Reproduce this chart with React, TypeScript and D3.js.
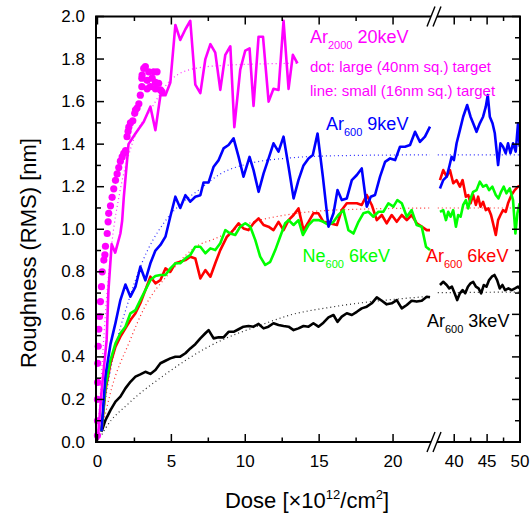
import * as d3 from "d3";
import React from "react";

type Pt = [number, number];

// Ar2000 20keV, small (16nm sq.) target - solid line
const ar2000Line: Pt[] = [
  [0.02, 0.01], [0.28, 0.24], [0.62, 0.48], [0.74, 0.71], [0.96, 0.93], [1.2, 0.89], [1.55, 0.98],
  [1.67, 1.04], [1.78, 1.15], [2.1, 1.4], [2.57, 1.45], [3.13, 1.505], [3.58, 1.576], [3.92, 1.466],
  [4.26, 1.63], [4.6, 1.63], [4.93, 1.69], [5.27, 1.96], [5.6, 1.89], [5.95, 1.94], [6.28, 1.98],
  [6.62, 1.68], [6.96, 1.64], [7.3, 1.8], [7.64, 1.87], [7.97, 1.83], [8.31, 1.655], [8.65, 1.82],
  [8.99, 1.86], [9.26, 1.48], [9.66, 1.75], [10.0, 1.84], [10.29, 1.85], [10.56, 1.58], [10.9, 1.905],
  [11.2, 1.905], [11.58, 1.6], [11.91, 1.66], [12.25, 1.655], [12.59, 1.98], [12.93, 1.66],
  [13.22, 1.82], [13.53, 1.78],
];

// Ar2000 20keV, large (40nm sq.) target - dots
const ar2000Dots: Pt[] = [
  [0.0, 0.03], [0.0, 0.1], [0.0, 0.2], [0.01, 0.28], [0.02, 0.37], [0.05, 0.45], [0.09, 0.53],
  [0.14, 0.59], [0.2, 0.66], [0.27, 0.73], [0.32, 0.8], [0.43, 0.855], [0.5, 0.88], [0.54, 0.92],
  [0.66, 0.98], [0.72, 1.035], [0.76, 1.075], [0.88, 1.11], [0.99, 1.15], [1.1, 1.19], [1.22, 1.23],
  [1.33, 1.26], [1.44, 1.29], [1.55, 1.32], [1.67, 1.34], [1.78, 1.357], [1.9, 1.37], [2.0, 1.435],
  [2.07, 1.46], [2.12, 1.48], [2.23, 1.5], [2.39, 1.51], [2.52, 1.545], [2.57, 1.56], [2.68, 1.57],
  [2.8, 1.59], [2.9, 1.63], [3.0, 1.67], [3.0, 1.71], [3.02, 1.725], [3.13, 1.756], [3.24, 1.764],
  [3.36, 1.66], [3.36, 1.7], [3.47, 1.74], [3.58, 1.67], [3.7, 1.71], [3.8, 1.74], [3.92, 1.66],
  [3.92, 1.69], [4.03, 1.74], [4.14, 1.686], [4.26, 1.655], [4.37, 1.646],
];

// Ar600 9keV
const ar600_9: Pt[] = [
  [0.27, 0.05], [0.54, 0.31], [0.88, 0.46], [1.22, 0.56], [1.55, 0.667], [1.89, 0.74], [2.23, 0.683],
  [2.57, 0.73], [2.9, 0.824], [3.24, 0.76], [3.58, 0.84], [3.92, 0.9], [4.26, 0.926], [4.6, 0.965],
  [4.93, 1.06], [5.27, 1.153], [5.6, 1.1], [5.95, 1.16], [6.28, 1.13], [6.62, 1.153], [6.96, 1.16],
  [7.18, 1.22], [7.52, 1.22], [7.86, 1.294], [8.2, 1.325], [8.53, 1.38], [8.87, 1.396], [9.21, 1.427],
  [9.55, 1.34], [9.88, 1.247], [10.29, 1.34], [10.56, 1.278], [10.9, 1.176], [11.24, 1.263],
  [11.58, 1.333], [11.91, 1.404], [12.25, 1.365], [12.59, 1.435], [12.93, 1.294], [13.27, 1.145],
  [13.6, 1.231], [13.94, 1.3], [14.28, 1.333], [14.57, 1.349], [14.89, 1.45], [15.25, 1.247],
  [15.63, 1.012], [15.97, 1.075], [16.24, 1.184], [16.53, 1.137], [16.87, 1.145], [17.21, 1.231],
  [17.55, 1.255], [17.88, 1.286], [18.22, 1.106], [18.49, 1.153], [18.78, 1.161], [19.12, 1.247],
  [19.46, 1.317], [19.8, 1.333], [20.14, 1.325], [20.47, 1.388], [20.81, 1.388], [21.15, 1.396],
  [21.49, 1.458], [21.82, 1.411], [22.16, 1.435], [22.5, 1.482],
  [37.83, 1.192], [38.33, 1.231], [38.85, 1.247], [39.24, 1.294], [39.6, 1.341], [39.95, 1.325],
  [40.36, 1.404], [40.86, 1.466], [41.36, 1.529], [41.97, 1.584], [42.48, 1.529], [42.88, 1.498],
  [43.39, 1.458], [43.89, 1.498], [44.39, 1.529], [44.8, 1.576], [45.1, 1.631], [45.41, 1.529],
  [45.82, 1.498], [46.17, 1.451], [46.67, 1.302], [47.03, 1.404], [47.42, 1.388], [47.83, 1.357],
  [48.18, 1.404], [48.55, 1.357], [48.94, 1.404], [49.35, 1.365], [49.7, 1.498], [49.95, 1.388],
];

// Ar600 6keV
const ar600_6: Pt[] = [
  [0.27, 0.05], [0.54, 0.244], [0.88, 0.37], [1.22, 0.448], [1.55, 0.495], [1.89, 0.534], [2.23, 0.573],
  [2.57, 0.605], [2.9, 0.652], [3.24, 0.714], [3.58, 0.777], [3.92, 0.746], [4.26, 0.761], [4.6, 0.816],
  [4.93, 0.8], [5.27, 0.84], [5.6, 0.847], [5.95, 0.855], [6.28, 0.871], [6.62, 0.863], [6.96, 0.769],
  [7.3, 0.808], [7.64, 0.777], [7.97, 0.84], [8.31, 0.902], [8.76, 0.965], [9.1, 0.988], [9.55, 1.028],
  [9.88, 1.004], [10.22, 0.996], [10.56, 1.028], [10.9, 1.051], [11.24, 1.02], [11.57, 1.012],
  [11.91, 0.996], [12.25, 1.035], [12.59, 0.996], [12.93, 1.043], [13.27, 1.067], [13.6, 1.098],
  [13.94, 0.996], [14.28, 1.035], [14.61, 1.075], [14.95, 1.075], [15.29, 1.035], [15.63, 1.03],
  [16.2, 1.02], [16.53, 1.09], [16.87, 1.122], [17.55, 1.122], [17.88, 1.114], [18.22, 1.161],
  [18.56, 1.114], [18.9, 1.043], [19.24, 1.067], [19.57, 1.028], [19.91, 1.067], [20.25, 1.035],
  [20.59, 1.067], [20.93, 1.043], [21.26, 1.067], [21.6, 1.028], [21.94, 1.012], [22.28, 0.996],
  [22.5, 0.996],
  [37.83, 1.231], [38.33, 1.278], [38.85, 1.247], [39.35, 1.278], [39.85, 1.216], [40.36, 1.231],
  [40.86, 1.2], [41.27, 1.231], [41.77, 1.153], [42.14, 1.161], [42.48, 1.122], [42.88, 1.161],
  [43.29, 1.114], [43.64, 1.153], [44.0, 1.106], [44.39, 1.129], [44.8, 1.09], [45.2, 1.098],
  [45.6, 1.067], [45.9, 1.028], [46.32, 0.973], [46.67, 1.043], [47.03, 1.067], [47.42, 1.09],
  [47.83, 1.082], [48.18, 1.122], [48.7, 1.161], [49.2, 1.184], [49.7, 1.2], [49.95, 1.204],
];

// Ne600 6keV
const ne600_6: Pt[] = [
  [0.27, 0.05], [0.54, 0.26], [0.88, 0.385], [1.22, 0.464], [1.55, 0.511], [1.89, 0.542], [2.23, 0.605],
  [2.57, 0.62], [2.9, 0.667], [3.24, 0.714], [3.58, 0.761], [3.92, 0.78], [4.26, 0.785], [4.6, 0.785],
  [4.93, 0.816], [5.27, 0.84], [5.6, 0.84], [5.95, 0.863], [6.28, 0.879], [6.62, 0.918], [6.96, 0.918],
  [7.3, 0.887], [7.64, 0.91], [7.97, 0.902], [8.31, 0.934], [8.65, 0.996], [8.99, 0.98], [9.32, 0.973],
  [9.66, 1.012], [10.0, 1.028], [10.34, 1.012], [10.68, 0.949], [11.01, 0.871], [11.35, 0.832],
  [11.69, 0.847], [12.03, 0.902], [12.36, 0.965], [12.7, 1.028], [12.93, 1.043], [13.27, 1.02],
  [13.6, 1.043], [13.9, 0.973], [14.28, 1.02], [14.61, 1.043], [14.95, 1.043], [15.29, 1.035],
  [15.63, 1.02], [15.97, 1.035], [16.3, 1.067], [16.64, 1.09], [16.98, 0.996], [17.32, 0.98],
  [17.66, 1.035], [17.99, 1.075], [18.33, 1.082], [18.67, 1.059], [19.01, 1.082], [19.34, 1.082],
  [19.68, 1.122], [20.02, 1.106], [20.29, 1.137], [20.59, 1.122], [20.93, 1.059], [21.26, 1.09],
  [21.6, 1.02], [21.94, 1.012], [22.23, 0.918], [22.5, 0.902],
  [37.83, 1.082], [38.33, 1.09], [38.74, 1.043], [39.09, 1.082], [39.45, 1.059], [39.85, 1.09],
  [40.26, 1.012], [40.6, 1.067], [40.97, 1.059], [41.36, 1.114], [41.77, 1.137], [42.12, 1.098],
  [42.48, 1.145], [42.88, 1.176], [43.39, 1.184], [43.89, 1.224], [44.39, 1.2], [44.9, 1.208],
  [45.3, 1.184], [45.8, 1.2], [46.32, 1.161], [46.73, 1.145], [47.12, 1.176], [47.53, 1.2],
  [47.94, 1.169], [48.44, 1.192], [48.94, 1.137], [49.3, 0.98], [49.6, 1.075], [49.95, 1.122],
];

// Ar600 3keV
const ar600_3: Pt[] = [
  [0.27, 0.048], [0.54, 0.103], [0.88, 0.15], [1.22, 0.19], [1.55, 0.213], [1.89, 0.252], [2.23, 0.283],
  [2.57, 0.307], [2.9, 0.318], [3.24, 0.33], [3.58, 0.32], [3.92, 0.338], [4.26, 0.37], [4.6, 0.382],
  [4.93, 0.393], [5.27, 0.401], [5.6, 0.401], [5.95, 0.417], [6.28, 0.44], [6.62, 0.46], [6.96, 0.487],
  [7.3, 0.511], [7.52, 0.526], [7.86, 0.487], [8.2, 0.492], [8.53, 0.492], [8.87, 0.518], [9.21, 0.518],
  [9.55, 0.53], [9.88, 0.542], [10.22, 0.545], [10.56, 0.542], [10.9, 0.555], [11.24, 0.534],
  [11.57, 0.542], [11.91, 0.558], [12.25, 0.55], [12.59, 0.545], [12.93, 0.542], [13.27, 0.526],
  [13.6, 0.534], [13.94, 0.545], [14.28, 0.542], [14.61, 0.558], [14.95, 0.542], [15.29, 0.561],
  [15.63, 0.586], [15.97, 0.597], [16.24, 0.565], [16.53, 0.589], [16.87, 0.605], [17.21, 0.597],
  [17.55, 0.612], [17.88, 0.628], [18.22, 0.636], [18.56, 0.652], [18.9, 0.68], [19.24, 0.664],
  [19.57, 0.647], [19.91, 0.652], [20.25, 0.667], [20.59, 0.628], [20.93, 0.644], [21.26, 0.664],
  [21.6, 0.66], [21.94, 0.664], [22.28, 0.683], [22.5, 0.68],
  [37.83, 0.738], [38.33, 0.753], [38.85, 0.738], [39.24, 0.722], [39.65, 0.73], [40.06, 0.699],
  [40.45, 0.667], [40.86, 0.699], [41.27, 0.714], [41.67, 0.699], [42.08, 0.73], [42.48, 0.746],
  [42.88, 0.753], [43.29, 0.73], [43.7, 0.722], [44.09, 0.699], [44.5, 0.738], [44.9, 0.73],
  [45.3, 0.761], [45.71, 0.777], [46.12, 0.785], [46.52, 0.761], [46.92, 0.722], [47.33, 0.738],
  [47.73, 0.714], [48.24, 0.722], [48.74, 0.714], [49.24, 0.722], [49.7, 0.73], [49.95, 0.722],
];

// dotted fit curves
const fitAr2000: Pt[] = [
  [0.0, 0.0], [0.3, 0.35], [0.6, 0.66], [1.0, 0.95], [1.5, 1.17], [2.34, 1.4], [3.58, 1.56],
  [4.93, 1.7], [6.62, 1.756], [9.0, 1.772], [13.5, 1.78],
];
const fitAr600_9: Pt[] = [
  [0.3, 0.1], [1.0, 0.38], [2.12, 0.667], [3.0, 0.84], [4.6, 1.04], [5.95, 1.137], [6.85, 1.184],
  [8.31, 1.26], [10.34, 1.31], [13.0, 1.335], [15.74, 1.345], [22.5, 1.35], [37.5, 1.35], [50, 1.35],
];
const fitAr600_6: Pt[] = [
  [0.3, 0.06], [0.99, 0.26], [2.12, 0.464], [3.24, 0.64], [4.82, 0.79], [6.96, 0.93], [7.75, 0.95],
  [10.34, 1.03], [13.0, 1.07], [16.0, 1.09], [22.5, 1.1], [37.5, 1.1], [50, 1.1],
];
const fitAr600_3: Pt[] = [
  [0.3, 0.035], [0.54, 0.064], [2.12, 0.182], [4.37, 0.307], [7.52, 0.448], [11.46, 0.56],
  [13.04, 0.597], [15.74, 0.633], [22.5, 0.685], [37.5, 0.702], [50, 0.705],
];

const leftTicks = [0, 2.5, 5, 7.5, 10, 12.5, 15, 17.5, 20];
const rightTicks = [40, 42.5, 45, 47.5, 50];
const xLabels = [0, 5, 10, 15, 20, 40, 45, 50];
const yTicks = d3.range(0, 21).map((i) => i / 10);
const yLabels = [0, 0.2, 0.4, 0.6, 0.8, 1.0, 1.2, 1.4, 1.6, 1.8, 2.0];

const FONT = "'Liberation Sans', Arial, sans-serif";
const left = 96;
const right = 520;
const top = 16.5;
const bottom = 442;
const brk1 = 431;
const brk2 = 437;

const xL = d3.scaleLinear().domain([-0.1, 22.5]).range([left, 430]);
const xR = d3.scaleLinear().domain([37, 50]).range([434.5, right]);
const y = d3.scaleLinear().domain([0, 2]).range([bottom, top]);
const xAny = (d: number) => (d < 30 ? xL(d) : xR(d));

function paths(data: Pt[], curve: d3.CurveFactory = d3.curveLinear) {
  const ln = d3.line<Pt>().x((d) => xAny(d[0])).y((d) => y(d[1])).curve(curve);
  return [data.filter((d) => d[0] < 30), data.filter((d) => d[0] >= 30)]
    .filter((s) => s.length > 1)
    .map((s) => ln(s) as string);
}

function Series({ data, color }: { data: Pt[]; color: string }) {
  return (
    <g>
      {paths(data).map((p, i) => (
        <path key={i} d={p} fill="none" stroke={color} strokeWidth={2.6} strokeLinejoin="round" />
      ))}
    </g>
  );
}

function Fit({ data, color }: { data: Pt[]; color: string }) {
  return (
    <g>
      {paths(data, d3.curveMonotoneX).map((p, i) => (
        <path key={i} d={p} fill="none" stroke={color} strokeWidth={1.2} strokeDasharray="1 3" opacity={0.85} />
      ))}
    </g>
  );
}

function Label({ x, yy, color, a, sub, b }: { x: number; yy: number; color: string; a: string; sub: string; b: string }) {
  return (
    <text x={x} y={yy} fill={color} fontSize={18} fontFamily={FONT}>
      {a}
      <tspan fontSize={11} dy={6}>{sub}</tspan>
      <tspan dy={-6}>{" " + b}</tspan>
    </text>
  );
}

function BreakMarks({ yc }: { yc: number }) {
  return (
    <g stroke="#000" strokeWidth={1.4}>
      <line x1={brk1 - 4} y1={yc + 10} x2={brk1 + 4} y2={yc - 10} />
      <line x1={brk2 - 4} y1={yc + 10} x2={brk2 + 4} y2={yc - 10} />
    </g>
  );
}

export default function App() {
  return (
    <svg width={531} height={519} style={{ position: "absolute", left: 0, top: 0, background: "#fff" }}>
      <rect width={531} height={519} fill="#fff" />

      {/* fits */}
      <Fit data={fitAr2000} color="#ff00ff" />
      <Fit data={fitAr600_9} color="#0000ff" />
      <Fit data={fitAr600_6} color="#ff0000" />
      <Fit data={fitAr600_3} color="#000000" />

      {/* data */}
      {ar2000Dots.map((d, i) => (
        <circle key={i} cx={xAny(d[0])} cy={y(d[1])} r={3.6} fill="#ff00ff" />
      ))}
      <Series data={ar600_3} color="#000000" />
      <Series data={ar600_6} color="#ff0000" />
      <Series data={ne600_6} color="#00ff00" />
      <Series data={ar600_9} color="#0000ff" />
      <Series data={ar2000Line} color="#ff00ff" />

      {/* frame */}
      <g stroke="#000" strokeWidth={2} fill="none">
        <line x1={left} y1={top} x2={left} y2={bottom} />
        <line x1={right} y1={top} x2={right} y2={bottom} />
        <line x1={left - 1} y1={bottom} x2={brk1} y2={bottom} />
        <line x1={brk2} y1={bottom} x2={right + 1} y2={bottom} />
        <line x1={left - 1} y1={top} x2={brk1} y2={top} />
        <line x1={brk2} y1={top} x2={right + 1} y2={top} />
      </g>
      <BreakMarks yc={bottom} />
      <BreakMarks yc={top} />

      {/* x ticks */}
      <g stroke="#000" strokeWidth={1.5}>
        {leftTicks.map((t) => {
          const len = t % 5 === 0 ? 8 : 4.5;
          return (
            <g key={"l" + t}>
              <line x1={xL(t)} x2={xL(t)} y1={bottom} y2={bottom - len} />
              <line x1={xL(t)} x2={xL(t)} y1={top} y2={top + len} />
            </g>
          );
        })}
        {rightTicks.map((t) => {
          const len = t % 5 === 0 ? 8 : 4.5;
          return (
            <g key={"r" + t}>
              <line x1={xR(t)} x2={xR(t)} y1={bottom} y2={bottom - len} />
              <line x1={xR(t)} x2={xR(t)} y1={top} y2={top + len} />
            </g>
          );
        })}
        {yTicks.map((t, i) => {
          const len = i % 2 === 0 ? 8 : 5;
          return (
            <g key={"y" + i}>
              <line x1={left} x2={left + len} y1={y(t)} y2={y(t)} />
              <line x1={right} x2={right - len} y1={y(t)} y2={y(t)} />
            </g>
          );
        })}
      </g>

      {/* tick labels */}
      <g fontFamily={FONT} fontSize={17} fill="#000">
        {xLabels.map((t) => (
          <text key={t} x={xAny(t)} y={467} textAnchor="middle">
            {t}
          </text>
        ))}
        {yLabels.map((t) => (
          <text key={t} x={85} y={y(t)} textAnchor="end" dominantBaseline="central">
            {d3.format(".1f")(t)}
          </text>
        ))}
      </g>

      {/* axis titles */}
      <text x={307} y={508} textAnchor="middle" fontFamily={FONT} fontSize={22}>
        Dose [×10
        <tspan fontSize={13} dy={-9}>12</tspan>
        <tspan dy={9}>/cm</tspan>
        <tspan fontSize={13} dy={-9}>2</tspan>
        <tspan dy={9}>]</tspan>
      </text>
      <text
        transform="translate(36,253) rotate(-90)"
        textAnchor="middle"
        fontFamily={FONT}
        fontSize={22}
      >
        Roughness (RMS) [nm]
      </text>

      {/* annotations */}
      <Label x={310} yy={43} color="#ff00ff" a="Ar" sub="2000" b="20keV" />
      <text x={310} y={72} fill="#ff00ff" fontSize={15} fontFamily={FONT}>
        dot: large (40nm sq.) target
      </text>
      <text x={310} y={96} fill="#ff00ff" fontSize={15} fontFamily={FONT}>
        line: small (16nm sq.) target
      </text>
      <Label x={326} yy={130} color="#0000ff" a="Ar" sub="600" b="9keV" />
      <Label x={302.5} yy={261.5} color="#00ff00" a="Ne" sub="600" b="6keV" />
      <Label x={426} yy={261.5} color="#ff0000" a="Ar" sub="600" b="6keV" />
      <Label x={427} yy={326.5} color="#000000" a="Ar" sub="600" b="3keV" />
    </svg>
  );
}
